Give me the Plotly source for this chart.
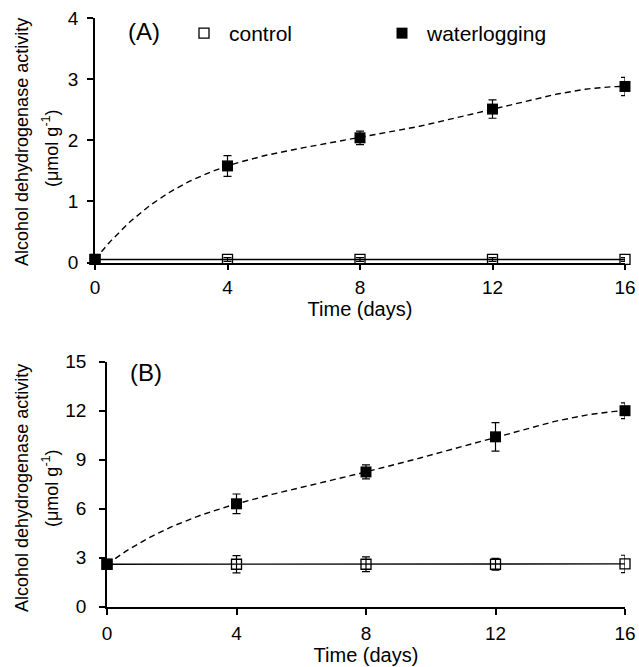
import numpy as np
import plotly.graph_objects as go

days = [0, 4, 8, 12, 16]
tick_vals = [0, 4, 8, 12, 16]

# Panel A
a_control = [0.05, 0.05, 0.05, 0.05, 0.05]
a_control_err = [0.02, 0.03, 0.03, 0.03, 0.03]
a_water = [0.05, 1.58, 2.04, 2.51, 2.88]
a_water_err = [0.02, 0.17, 0.11, 0.15, 0.15]

# Panel B
b_control = [2.6, 2.6, 2.6, 2.6, 2.62]
b_control_err = [0.1, 0.53, 0.45, 0.36, 0.53]
b_water = [2.6, 6.3, 8.25, 10.4, 12.0]
b_water_err = [0.1, 0.6, 0.43, 0.87, 0.48]

FONT = "Liberation Sans, Arial, sans-serif"
fig = go.Figure()


def trend(values):
    # polynomial (order 4) trendline fitted to the measured points
    coef = np.polyfit(days, values, 4)
    xs = np.linspace(days[0], days[-1], 161)
    return xs, np.polyval(coef, xs)


def add_panel(xa, ya, ctrl, ctrl_err, wat, wat_err, legend):
    fig.add_trace(go.Scatter(x=days, y=ctrl, mode="lines", line=dict(color="black", width=1.4),
                             xaxis=xa, yaxis=ya, showlegend=False, hoverinfo="skip"))
    tx, ty = trend(wat)
    fig.add_trace(go.Scatter(x=tx, y=ty, mode="lines", line=dict(color="black", width=1.4, dash="6px,4px"),
                             xaxis=xa, yaxis=ya, showlegend=False, hoverinfo="skip"))
    fig.add_trace(go.Scatter(x=days, y=ctrl, mode="markers", name="control",
                             marker=dict(symbol="square-open", size=10, color="black", line=dict(width=1.3)),
                             error_y=dict(type="data", array=ctrl_err, color="black", thickness=1.2, width=4),
                             xaxis=xa, yaxis=ya, showlegend=legend, cliponaxis=False))
    fig.add_trace(go.Scatter(x=days, y=wat, mode="markers", name="waterlogging",
                             marker=dict(symbol="square", size=11, color="black"),
                             error_y=dict(type="data", array=wat_err, color="black", thickness=1.2, width=4),
                             xaxis=xa, yaxis=ya, showlegend=legend, cliponaxis=False))


add_panel("x", "y", a_control, a_control_err, a_water, a_water_err, True)
add_panel("x2", "y2", b_control, b_control_err, b_water, b_water_err, False)

axis_common = dict(showline=True, linecolor="black", linewidth=1.6, ticks="outside", ticklen=6,
                   tickwidth=1.5, tickcolor="black", showgrid=False, zeroline=False, automargin=False,
                   tickfont=dict(family=FONT, size=19, color="black"))

W, H = 639, 667
ytitle = "Alcohol dehydrogenase activity"
yunit = "(μmol g<sup>-1</sup>)"


def ann(text, x, y, size, angle=0):
    return dict(text=text, x=x/W, y=1-y/H, xref="paper", yref="paper", showarrow=False,
                xanchor="center", yanchor="middle", textangle=angle,
                font=dict(family=FONT, size=size, color="black"))


fig.update_layout(
    width=W, height=H, margin=dict(l=0, r=0, t=0, b=0, autoexpand=False),
    paper_bgcolor="white", plot_bgcolor="white",
    font=dict(family=FONT, color="black"),
    xaxis=dict(domain=[95/W, 625/W], range=[0, 16], tickvals=tick_vals, anchor="y", ticklabelstandoff=1,
               title=dict(text="Time (days)", font=dict(size=20), standoff=3), **axis_common),
    yaxis=dict(domain=[1-262.5/H, 1-18/H], range=[0, 4], tickvals=[0, 1, 2, 3, 4], anchor="x",
               ticklabelstandoff=5, **axis_common),
    xaxis2=dict(domain=[107/W, 625/W], range=[0, 16], tickvals=tick_vals, anchor="y2", ticklabelstandoff=3,
                title=dict(text="Time (days)", font=dict(size=20), standoff=1), **axis_common),
    yaxis2=dict(domain=[1-606.7/H, 1-361.7/H], range=[0, 15], tickvals=[0, 3, 6, 9, 12, 15], anchor="x2",
                ticklabelstandoff=9, **axis_common),
    legend=dict(orientation="h", x=179/W, y=1-13/H, xanchor="left", yanchor="top",
                font=dict(family=FONT, size=21, color="black"), entrywidth=143, entrywidthmode="pixels",
                itemwidth=40, bgcolor="rgba(0,0,0,0)"),
    annotations=[
        ann("(A)", 144, 31, 24),
        ann("(B)", 146, 372, 24),
        ann(ytitle, 22, 142, 18, -90),
        ann(yunit, 50, 148, 18, -90),
        ann(ytitle, 22, 488, 18, -90),
        ann(yunit, 50, 488, 18, -90),
    ],
)

fig.write_html("out.html")
